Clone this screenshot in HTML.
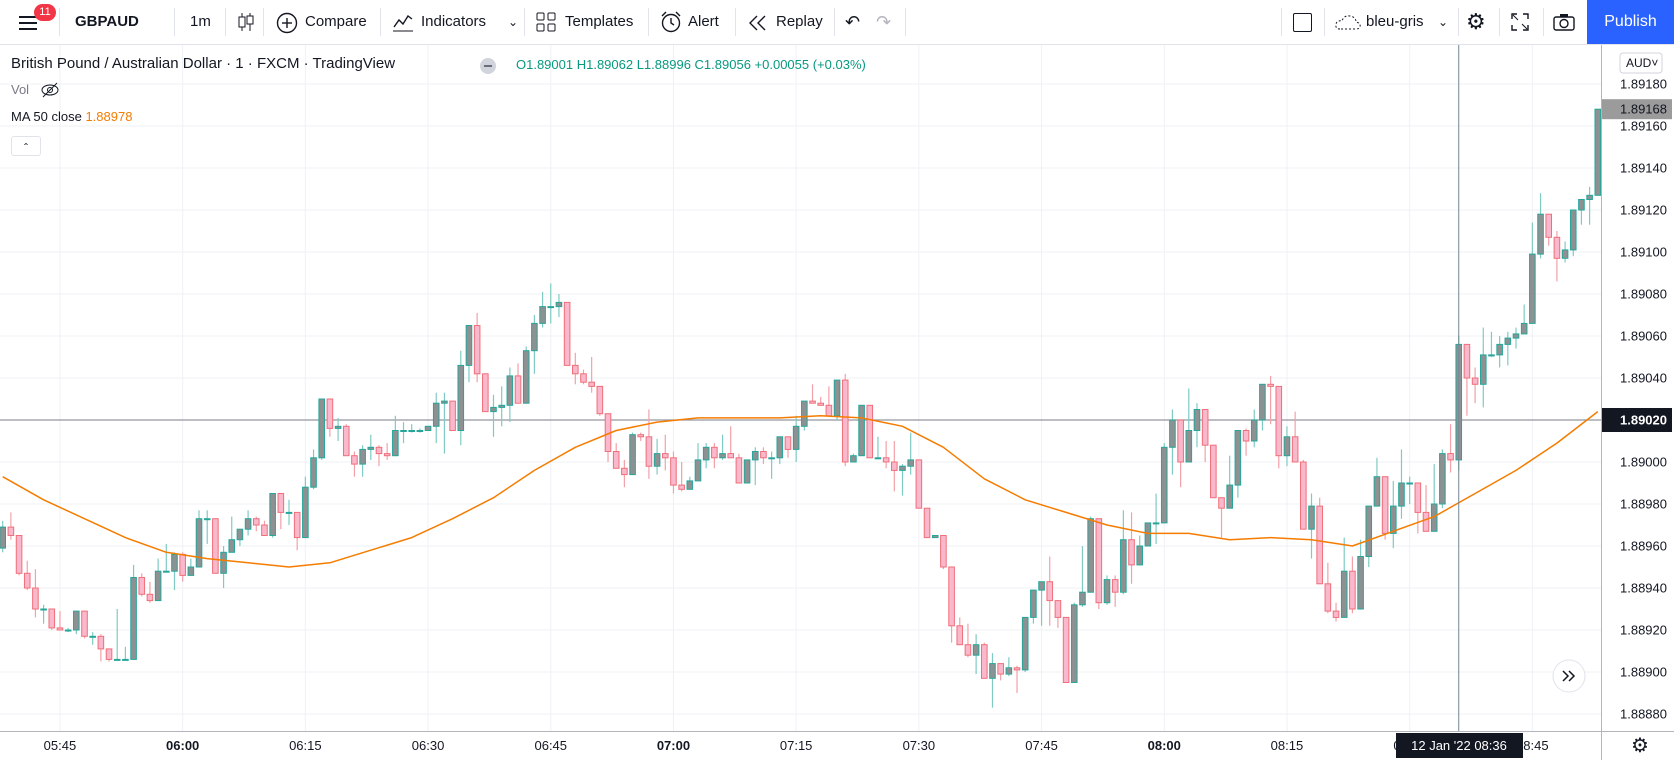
<!DOCTYPE html>
<html><head><meta charset="utf-8">
<style>
html,body{margin:0;padding:0;background:#fff;}
body{width:1674px;height:760px;position:relative;overflow:hidden;font-family:"Liberation Sans",sans-serif;color:#131722;}
.tb{position:absolute;left:0;top:0;width:1674px;height:45px;border-bottom:1px solid #e0e3eb;box-sizing:border-box;}
.tb .it{position:absolute;top:0;height:44px;line-height:44px;font-size:15px;color:#131722;}
.dv{position:absolute;top:8px;width:1px;height:28px;background:#e0e3eb;}
.leg{position:absolute;font-size:15px;color:#131722;white-space:nowrap;}
#chart{position:absolute;left:0;top:0;}
</style></head>
<body>
<div class="tb">
  <svg class="it" style="left:18px;top:12px;height:22px" width="22" height="22"><rect x="1" y="4" width="18" height="2" fill="#131722"/><rect x="1" y="10" width="18" height="2" fill="#131722"/><rect x="1" y="16" width="18" height="2" fill="#131722"/></svg>
  <div style="position:absolute;left:34px;top:4px;width:22px;height:17px;border-radius:9px;background:#f23645;color:#fff;font-size:11px;text-align:center;line-height:17px;">11</div>
  <div class="dv" style="left:59px"></div>
  <div class="it" style="left:75px;font-weight:bold;">GBPAUD</div>
  <div class="dv" style="left:174px"></div>
  <div class="it" style="left:190px;">1m</div>
  <div class="dv" style="left:225px"></div>
  <svg class="it" style="left:236px;top:11px;height:22px" width="20" height="22"><line x1="6" y1="2" x2="6" y2="20" stroke="#131722"/><rect x="3" y="6" width="6" height="10" fill="#fff" stroke="#131722"/><line x1="14" y1="2" x2="14" y2="20" stroke="#131722"/><rect x="11" y="5" width="6" height="8" fill="#fff" stroke="#131722"/></svg>
  <div class="dv" style="left:263px"></div>
  <svg class="it" style="left:276px;top:12px;height:22px" width="22" height="22"><circle cx="11" cy="11" r="9.5" fill="none" stroke="#131722" stroke-width="1.4"/><line x1="11" y1="6" x2="11" y2="16" stroke="#131722" stroke-width="1.4"/><line x1="6" y1="11" x2="16" y2="11" stroke="#131722" stroke-width="1.4"/></svg>
  <div class="it" style="left:305px;">Compare</div>
  <div class="dv" style="left:380px"></div>
  <svg class="it" style="left:392px;top:11px;height:22px" width="22" height="22"><polyline points="1,20 21,20" stroke="#131722" fill="none"/><polyline points="2,16 7,9 11,13 16,5 20,8" stroke="#131722" fill="none" stroke-width="1.4"/></svg>
  <div class="it" style="left:421px;">Indicators</div>
  <div class="it" style="left:508px;font-size:12px;">&#8964;</div>
  <div class="dv" style="left:524px"></div>
  <svg class="it" style="left:536px;top:12px;height:20px" width="20" height="20"><rect x="1" y="1" width="7" height="7" rx="1" fill="none" stroke="#131722"/><rect x="12" y="1" width="7" height="7" rx="1" fill="none" stroke="#131722"/><rect x="1" y="12" width="7" height="7" rx="1" fill="none" stroke="#131722"/><rect x="12" y="12" width="7" height="7" rx="1" fill="none" stroke="#131722"/></svg>
  <div class="it" style="left:565px;">Templates</div>
  <div class="dv" style="left:648px"></div>
  <svg class="it" style="left:660px;top:11px;height:22px" width="22" height="22"><circle cx="11" cy="12" r="8.5" fill="none" stroke="#131722" stroke-width="1.4"/><polyline points="11,7 11,12 14,14" fill="none" stroke="#131722" stroke-width="1.4"/><line x1="2" y1="5" x2="6" y2="1" stroke="#131722" stroke-width="1.4"/><line x1="20" y1="5" x2="16" y2="1" stroke="#131722" stroke-width="1.4"/></svg>
  <div class="it" style="left:688px;">Alert</div>
  <div class="dv" style="left:735px"></div>
  <svg class="it" style="left:748px;top:14px;height:18px" width="20" height="18"><polyline points="9,2 2,9 9,16" fill="none" stroke="#131722" stroke-width="1.4"/><polyline points="17,2 10,9 17,16" fill="none" stroke="#131722" stroke-width="1.4"/></svg>
  <div class="it" style="left:776px;">Replay</div>
  <div class="dv" style="left:834px"></div>
  <div class="it" style="left:845px;font-size:18px;">&#8630;</div>
  <div class="it" style="left:876px;font-size:18px;color:#b2b5be;">&#8631;</div>
  <div class="dv" style="left:905px"></div>
  <div class="dv" style="left:1281px"></div>
  <div style="position:absolute;left:1293px;top:13px;width:17px;height:17px;border:1.5px solid #131722;border-radius:2px;"></div>
  <div class="dv" style="left:1324px"></div>
  <svg class="it" style="left:1334px;top:13px;height:18px" width="28" height="18"><path d="M6 16 Q1 16 2 11 Q3 7 8 8 Q10 2 16 3 Q22 4 22 9 Q27 10 26 14 Q25 16 22 16 Z" fill="none" stroke="#131722" stroke-dasharray="2,2"/></svg>
  <div class="it" style="left:1366px;">bleu-gris</div>
  <div class="it" style="left:1438px;font-size:12px;">&#8964;</div>
  <div class="dv" style="left:1458px"></div>
  <div class="it" style="left:1466px;font-size:22px;">&#9881;</div>
  <div class="dv" style="left:1499px"></div>
  <svg class="it" style="left:1511px;top:13px;height:18px" width="18" height="18"><polyline points="1,6 1,1 6,1" fill="none" stroke="#131722" stroke-width="1.4"/><polyline points="12,1 17,1 17,6" fill="none" stroke="#131722" stroke-width="1.4"/><polyline points="1,12 1,17 6,17" fill="none" stroke="#131722" stroke-width="1.4"/><polyline points="12,17 17,17 17,12" fill="none" stroke="#131722" stroke-width="1.4"/><line x1="2" y1="2" x2="7" y2="7" stroke="#131722"/><line x1="16" y1="16" x2="11" y2="11" stroke="#131722"/></svg>
  <div class="dv" style="left:1543px"></div>
  <svg class="it" style="left:1553px;top:13px;height:18px" width="22" height="18"><rect x="1" y="4" width="20" height="13" rx="2" fill="none" stroke="#131722" stroke-width="1.4"/><circle cx="11" cy="10.5" r="4" fill="none" stroke="#131722" stroke-width="1.4"/><rect x="7" y="1" width="8" height="3" fill="#131722"/></svg>
  <div style="position:absolute;left:1587px;top:0;width:87px;height:44px;background:#2962ff;color:#fff;font-size:16px;line-height:44px;text-align:center;">Publish</div>
</div>

<svg id="chart" width="1674" height="760" style="top:0"></svg>

<div class="leg" style="left:11px;top:55px;">British Pound / Australian Dollar · 1 · FXCM · TradingView</div>
<div style="position:absolute;left:480px;top:58px;width:16px;height:16px;border-radius:8px;background:#d1d4dc;"><div style="position:absolute;left:4px;top:7px;width:8px;height:2px;background:#6a6d78"></div></div>
<div class="leg" style="left:516px;top:57px;font-size:13px;color:#089981;">O1.89001 H1.89062 L1.88996 C1.89056 +0.00055 (+0.03%)</div>
<div class="leg" style="left:11px;top:82px;font-size:13px;color:#787b86;">Vol</div>
<svg style="position:absolute;left:40px;top:82px" width="20" height="16"><ellipse cx="10" cy="8" rx="8" ry="5" fill="none" stroke="#131722"/><circle cx="10" cy="8" r="2.5" fill="none" stroke="#131722"/><line x1="3" y1="15" x2="17" y2="1" stroke="#131722"/></svg>
<div class="leg" style="left:11px;top:109px;font-size:13px;">MA 50 close <span style="color:#f57c00">1.88978</span></div>
<div style="position:absolute;left:11px;top:136px;width:30px;height:20px;border:1px solid #e0e3eb;border-radius:3px;box-sizing:border-box;text-align:center;font-size:12px;line-height:22px;">&#710;</div>

<script>
const basePrice = 1.8902; // offsets below are in 0.00001 units
const opens = [-61,-51,-55,-73,-80,-90,-90,-99,-100,-100,-91,-103,-103,-109,-114,-114,-114,-75,-83,-86,-72,-72,-64,-74,-70,-47,-47,-73,-63,-57,-52,-47,-50,-55,-35,-44,-44,-56,-32,-18,10,-4,-3,-17,-21,-14,-13,-16,-17,-5,-5,-5,-5,-3,8,9,-5,26,45,22,4,6,7,21,8,33,46,54,54,56,26,22,18,16,3,-15,-23,-26,-7,-8,-22,-16,-18,-31,-33,-29,-19,-13,-18,-16,-18,-30,-19,-15,-18,-18,-8,-14,-3,9,8,7,2,19,-20,-17,7,-18,-18,-20,-24,-22,-19,-42,-56,-55,-70,-98,-107,-112,-107,-123,-116,-121,-118,-119,-94,-81,-77,-86,-94,-125,-88,-82,-47,-87,-76,-82,-57,-69,-60,-49,-49,-13,0,-20,-5,5,-12,-37,-42,-31,-5,-10,0,17,16,-17,-8,-20,-52,-41,-78,-91,-94,-72,-90,-65,-41,-27,-54,-41,-30,-30,-44,-53,-40,-16,-19,36,20,17,31,31,36,39,41,46,79,98,87,77,81,100,105,107];
const highs = [-48,-44,-55,-67,-71,-88,-90,-91,-99,-91,-91,-101,-102,-109,-90,-108,-69,-73,-77,-66,-59,-63,-63,-66,-43,-43,-47,-60,-46,-52,-43,-46,-48,-35,-35,-38,-44,-27,-14,10,10,1,-2,-15,-12,-7,-12,-11,2,-1,-2,-4,-3,13,13,9,33,45,51,22,12,16,25,27,35,50,61,65,60,56,32,24,30,16,3,-11,-19,-6,-6,5,-9,-7,-15,-20,-27,-11,-11,-11,-7,-3,-16,-19,-13,-13,-15,-8,-8,2,9,17,11,16,19,22,-16,7,7,-8,-10,-10,-21,-6,-19,-42,-55,-55,-70,-94,-97,-102,-106,-111,-116,-113,-117,-94,-81,-77,-65,-86,-94,-87,-60,-46,-47,-74,-74,-43,-44,-55,-49,-35,-11,5,0,15,8,5,-12,-37,-17,-5,-4,5,17,21,16,-3,4,-19,-35,-37,-68,-87,-56,-65,-57,-41,-18,-27,-29,-14,-27,-30,-31,-21,-14,-2,40,36,25,44,42,40,42,44,55,94,108,98,90,85,100,105,111,148];
const lows = [-63,-57,-74,-81,-94,-97,-100,-100,-101,-102,-104,-107,-115,-115,-114,-114,-114,-84,-87,-86,-72,-81,-77,-74,-70,-59,-73,-80,-63,-60,-55,-53,-55,-56,-52,-50,-62,-56,-33,-19,-8,-10,-17,-27,-27,-19,-22,-19,-17,-11,-6,-6,-5,-11,-16,-5,-12,18,18,4,-8,-3,-1,8,8,22,44,46,49,26,17,17,13,2,-20,-23,-32,-26,-10,-28,-26,-24,-35,-34,-33,-29,-23,-23,-19,-18,-30,-30,-31,-21,-28,-21,-18,-20,-5,8,7,2,0,-22,-20,-17,-18,-18,-23,-34,-36,-26,-42,-56,-56,-71,-106,-107,-113,-121,-123,-137,-124,-122,-130,-120,-97,-98,-98,-99,-125,-125,-89,-82,-90,-88,-89,-83,-78,-69,-60,-59,-49,-26,-32,-20,-13,-20,-37,-56,-42,-37,-17,-13,-5,-2,-23,-22,-20,-52,-66,-78,-92,-96,-94,-92,-90,-70,-41,-57,-61,-47,-40,-54,-53,-53,-42,-25,-24,2,8,6,30,25,26,34,41,46,77,83,66,75,78,93,93,107];
const closes = [-51,-55,-73,-80,-90,-90,-99,-100,-100,-91,-103,-103,-109,-114,-114,-114,-75,-83,-86,-72,-72,-64,-74,-70,-47,-47,-73,-63,-57,-52,-47,-50,-55,-35,-44,-44,-56,-32,-18,10,-4,-3,-17,-21,-14,-13,-16,-17,-5,-5,-5,-5,-3,8,9,-5,26,45,22,4,6,7,21,8,33,46,54,54,56,26,22,18,16,3,-15,-23,-26,-7,-8,-22,-16,-18,-31,-33,-29,-19,-13,-18,-16,-18,-30,-19,-15,-18,-18,-8,-14,-3,9,8,7,2,19,-20,-17,7,-18,-18,-20,-24,-22,-19,-42,-56,-55,-70,-98,-107,-112,-107,-123,-116,-121,-118,-119,-94,-81,-77,-86,-94,-125,-88,-82,-47,-87,-76,-82,-57,-69,-60,-49,-49,-13,0,-20,-5,5,-12,-37,-42,-31,-5,-10,0,17,16,-17,-8,-20,-52,-41,-78,-91,-94,-72,-90,-65,-41,-27,-54,-41,-30,-30,-44,-53,-40,-16,-19,36,20,17,31,31,36,39,41,46,79,98,87,77,81,100,105,107,148];
const maStep = 5;
const maValues = [-27,-38,-47,-56,-63,-66,-68,-70,-68,-62,-56,-47,-37,-24,-13,-5,-1,1,1,1,2,1,-3,-13,-28,-38,-44,-50,-54,-54,-57,-56,-57,-60,-53,-46,-35,-24,-11,4];
const priceTicks = ["1.89180","1.89160","1.89140","1.89120","1.89100","1.89080","1.89060","1.89040","1.89020","1.89000","1.88980","1.88960","1.88940","1.88920","1.88900","1.88880"];
const timeTicks = ["05:45","06:00","06:15","06:30","06:45","07:00","07:15","07:30","07:45","08:00","08:15","08:30","08:45"];
const boldTicks = ["06:00","07:00","08:00"];
const firstTickIndex = 7; // 05:45 is candle 7 (first candle 05:38)
const ticksEvery = 15;
const lastPrice = 148, markPrice = 0, crosshairIndex = 178;

const NS="http://www.w3.org/2000/svg";
const svg=document.getElementById('chart');
const X0=2.7, DX=8.18, Y0=420, KY=2.1, AXIS_X=1601, TOP=45, BOT=731;
function x(i){return X0+DX*i;}
function y(v){return Y0-v*KY;}
function mk(tag,attrs,parent){const e=document.createElementNS(NS,tag);for(const k in attrs)e.setAttribute(k,attrs[k]);(parent||svg).appendChild(e);return e;}

// grid
const grid=mk('g',{});


priceTicks.forEach(function(t){const v=Math.round((parseFloat(t)-basePrice)*1e5);mk('line',{x1:0,x2:AXIS_X,y1:y(v),y2:y(v),stroke:'#eef1f6','stroke-width':1},grid);});
timeTicks.forEach(function(t,k){const xx=x(firstTickIndex+k*ticksEvery);if(xx<AXIS_X)mk('line',{x1:xx,x2:xx,y1:TOP,y2:BOT,stroke:'#eef1f6','stroke-width':1},grid);});

// price line
const pl=mk('line',{x1:0,x2:AXIS_X,y1:y(markPrice),y2:y(markPrice),stroke:'#9598a1','stroke-width':1.2});



// candles
const cg=mk('g',{});


for(let i=0;i<closes.length;i++){
  const up=closes[i]>=opens[i];
  const cx=x(i);
  const g=mk('g',{},cg);
  
  
  mk('line',{x1:cx,x2:cx,y1:y(highs[i]),y2:y(lows[i]),stroke:up?'#7fcac3':'#f2a1a8','stroke-width':1.2},g);
  const top=y(Math.max(opens[i],closes[i])),bot=y(Math.min(opens[i],closes[i]));
  mk('rect',{x:cx-2.8,y:top,width:5.6,height:Math.max(bot-top,1),fill:up?'#8e9192':'#f9b8cb',stroke:up?'#26a69a':'#ef6f7a','stroke-width':1},g);
}

// MA line
let pts=[];
maValues.forEach(function(v,k){pts.push(x(k*maStep).toFixed(1)+','+y(v).toFixed(1));});
const ma=mk('polyline',{points:pts.join(' '),fill:'none',stroke:'#f57c00','stroke-width':1.5,'stroke-linejoin':'round'});



// crosshair
const ch=mk('line',{x1:x(crosshairIndex),x2:x(crosshairIndex),y1:TOP,y2:BOT,stroke:'#758696','stroke-width':1});



// axes
const pa=mk('rect',{x:AXIS_X,y:TOP,width:1674-AXIS_X,height:BOT-TOP,fill:'#fff'});


mk('line',{x1:AXIS_X+0.5,x2:AXIS_X+0.5,y1:TOP,y2:760,stroke:'#b2b5be','stroke-width':1});
mk('line',{x1:0,x2:1674,y1:BOT+0.5,y2:BOT+0.5,stroke:'#b2b5be','stroke-width':1});
priceTicks.forEach(function(t){
  const v=Math.round((parseFloat(t)-basePrice)*1e5);
  const tx=mk('text',{x:1620,y:y(v)+4.5,'font-size':13,fill:'#131722','font-family':'Liberation Sans, sans-serif'});
  
  
  tx.textContent=t;
});
timeTicks.forEach(function(t,k){
  const xx=x(firstTickIndex+k*ticksEvery);
  const tx=mk('text',{x:xx,y:750,'font-size':13,'text-anchor':'middle',fill:'#131722','font-weight':boldTicks.indexOf(t)>=0?'bold':'normal','font-family':'Liberation Sans, sans-serif'});
  
  
  tx.textContent=t;
});
// last price label
const lp=mk('g',{});


mk('rect',{x:AXIS_X+1,y:y(lastPrice)-10,width:70,height:20,fill:'#9b9b9b'},lp);
mk('text',{x:1620,y:y(lastPrice)+4.5,'font-size':13,fill:'#131722','font-family':'Liberation Sans, sans-serif'},lp).textContent=(basePrice+lastPrice/1e5).toFixed(5);
const mp=mk('g',{});


mk('rect',{x:AXIS_X+1,y:y(markPrice)-12,width:70,height:24,fill:'#131722'},mp);
mk('text',{x:1620,y:y(markPrice)+4.5,'font-size':13,'font-weight':'bold',fill:'#fff','font-family':'Liberation Sans, sans-serif'},mp).textContent=(basePrice+markPrice/1e5).toFixed(5);
// AUD chip
const aud=mk('g',{});


mk('rect',{x:1620,y:53,width:42,height:20,rx:3,fill:'#fff',stroke:'#d1d4dc'},aud);
mk('text',{x:1626,y:67,'font-size':12,fill:'#131722','font-family':'Liberation Sans, sans-serif'},aud).textContent='AUD\u02C5';
// crosshair time label
const tl=mk('g',{});


mk('rect',{x:1396,y:733,width:127,height:25,fill:'#131722'},tl);
mk('text',{x:1459,y:750,'font-size':13,'text-anchor':'middle',fill:'#fff','font-family':'Liberation Sans, sans-serif'},tl).textContent="12 Jan '22   08:36";
// scroll button
const sb=mk('g',{});


mk('circle',{cx:1569,cy:676,r:16,fill:'#fff',stroke:'#e0e3eb'},sb);
mk('polyline',{points:'1563,671 1568,676 1563,681',fill:'none',stroke:'#131722','stroke-width':1.5},sb);
mk('polyline',{points:'1569,671 1574,676 1569,681',fill:'none',stroke:'#131722','stroke-width':1.5},sb);
// settings gear
const gear=mk('text',{x:1640,y:752,'font-size':20,'text-anchor':'middle',fill:'#131722'});


gear.textContent='\u2699';
</script>
</body></html>
